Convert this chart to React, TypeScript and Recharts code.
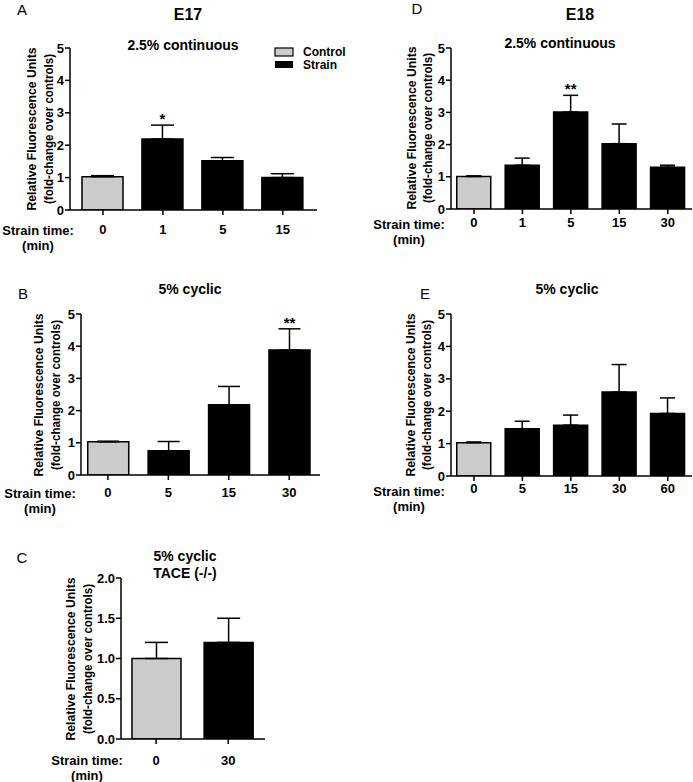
import React from "react";
import { BarChart, Bar, XAxis, YAxis, ErrorBar, Cell, LabelList } from "recharts";

const FONT = '"Liberation Sans", Arial, sans-serif';
const GREY = "#cbcbcb";

// A: E17, 2.5% continuous
const aTimes = ["0", "1", "5", "15"];
const aMeans = [1.03, 2.19, 1.52, 1.0];
const aErrors = [0.03, 0.43, 0.1, 0.12];
const aStars = ["", "*", "", ""];

// B: E17, 5% cyclic
const bTimes = ["0", "5", "15", "30"];
const bMeans = [1.03, 0.75, 2.18, 3.88];
const bErrors = [0.02, 0.29, 0.57, 0.66];
const bStars = ["", "", "", "**"];

// C: 5% cyclic, TACE (-/-)
const cTimes = ["0", "30"];
const cMeans = [1.0, 1.2];
const cErrors = [0.2, 0.3];
const cStars = ["", ""];

// D: E18, 2.5% continuous
const dTimes = ["0", "1", "5", "15", "30"];
const dMeans = [1.01, 1.36, 3.01, 2.03, 1.3];
const dErrors = [0.02, 0.22, 0.52, 0.61, 0.06];
const dStars = ["", "", "**", "", ""];

// E: E18, 5% cyclic
const eTimes = ["0", "5", "15", "30", "60"];
const eMeans = [1.03, 1.46, 1.57, 2.59, 1.93];
const eErrors = [0.02, 0.23, 0.31, 0.85, 0.48];
const eStars = ["", "", "", "", ""];

const foldTicks = [0, 1, 2, 3, 4, 5];
const tinyTicks = [0, 0.5, 1, 1.5, 2];

type PanelProps = {
  axisX: number;
  topY: number;
  bottomY: number;
  rightX: number;
  lo: number;
  hi: number;
  times: string[];
  means: number[];
  errors: number[];
  stars: string[];
  yTicks: number[];
  decimals: number;
  barSize: number;
  cap: number;
  tickGap: number;
};

function Panel(p: PanelProps) {
  const rows = p.times.map((t, i) => ({
    x: i,
    value: p.means[i],
    err: [0, p.errors[i]],
    errTop: p.errors[i],
    star: p.stars[i],
  }));
  const w = 40 + (p.rightX - p.axisX) + 5;
  const h = 10 + (p.bottomY - p.topY) + 30;
  const tickStyle = { fill: "#000", fontSize: 13, fontWeight: 700, fontFamily: FONT };
  return (
    <div style={{ position: "absolute", left: p.axisX - 40, top: p.topY - 10 }}>
      <BarChart width={w} height={h} data={rows} margin={{ top: 10, right: 5, bottom: 0, left: 0 }}>
        <XAxis
          dataKey="x"
          type="number"
          domain={[p.lo, p.hi]}
          allowDataOverflow
          ticks={p.times.map((_, i) => i)}
          tickFormatter={(v: number) => p.times[v] ?? ""}
          height={30}
          axisLine={{ stroke: "#000", strokeWidth: 1.5 }}
          tickLine={{ stroke: "#000", strokeWidth: 1.5 }}
          tickSize={5}
          tickMargin={p.tickGap}
          tick={tickStyle}
          interval={0}
        />
        <YAxis
          domain={[0, p.yTicks[p.yTicks.length - 1]]}
          ticks={p.yTicks}
          width={40}
          allowDataOverflow
          tickFormatter={(v: number) => v.toFixed(p.decimals)}
          axisLine={{ stroke: "#000", strokeWidth: 1.5 }}
          tickLine={{ stroke: "#000", strokeWidth: 1.5 }}
          tickSize={5}
          tickMargin={1}
          tick={tickStyle}
          interval={0}
        />
        <Bar dataKey="value" stackId="s" barSize={p.barSize} stroke="#000" strokeWidth={1.5} isAnimationActive={false}>
          {rows.map((_, i) => (
            <Cell key={i} fill={i === 0 ? GREY : "#000"} />
          ))}
          <ErrorBar dataKey="err" width={p.cap} stroke="#000" strokeWidth={1.5} direction="y" />
        </Bar>
        <Bar dataKey="errTop" stackId="s" barSize={p.barSize} fill="transparent" isAnimationActive={false}>
          <LabelList dataKey="star" position="top" offset={1} style={{ fill: "#000", fontSize: 15, fontWeight: 700, fontFamily: FONT }} />
        </Bar>
      </BarChart>
    </div>
  );
}

function YTitle({ cy1, cy2, cy }: { cy1: number; cy2: number; cy: number }) {
  return (
    <g fontFamily={FONT} fontWeight={700} fontSize={12.5} fill="#000" textAnchor="middle" dominantBaseline="central">
      <text transform={`translate(${cy1},${cy}) rotate(-90)`} textLength={163} lengthAdjust="spacingAndGlyphs">
        Relative Fluorescence Units
      </text>
      <text transform={`translate(${cy2},${cy}) rotate(-90)`} textLength={150} lengthAdjust="spacingAndGlyphs">
        (fold-change over controls)
      </text>
    </g>
  );
}

function XTitle({ x, y }: { x: number; y: number }) {
  return (
    <g fontFamily={FONT} fontWeight={700} fontSize={13} fill="#000" textAnchor="middle" dominantBaseline="central">
      <text x={x} y={y}>Strain time:</text>
      <text x={x} y={y + 15}>(min)</text>
    </g>
  );
}

export default function App() {
  const t = { fontFamily: FONT, fill: "#000", textAnchor: "middle" as const, dominantBaseline: "central" as const };
  return (
    <div style={{ position: "absolute", left: 0, top: 0, width: 693, height: 782, background: "#fff", overflow: "hidden" }}>
      <Panel axisX={70} topY={48} bottomY={210} rightX={317} lo={-0.55} hi={3.57} times={aTimes} means={aMeans} errors={aErrors} stars={aStars} yTicks={foldTicks} decimals={0} barSize={41} cap={11.5} tickGap={10} />
      <Panel axisX={81} topY={314} bottomY={475} rightX={320} lo={-0.446} hi={3.51} times={bTimes} means={bMeans} errors={bErrors} stars={bStars} yTicks={foldTicks} decimals={0} barSize={41} cap={11} tickGap={7.5} />
      <Panel axisX={121} topY={578} bottomY={739} rightX={265} lo={-0.486} hi={1.51} times={cTimes} means={cMeans} errors={cErrors} stars={cStars} yTicks={tinyTicks} decimals={1} barSize={49} cap={11.5} tickGap={12} />
      <Panel axisX={451} topY={48} bottomY={209} rightX={692} lo={-0.474} hi={4.5} times={dTimes} means={dMeans} errors={dErrors} stars={dStars} yTicks={foldTicks} decimals={0} barSize={34} cap={7.5} tickGap={3.5} />
      <Panel axisX={451} topY={314} bottomY={476} rightX={692} lo={-0.474} hi={4.5} times={eTimes} means={eMeans} errors={eErrors} stars={eStars} yTicks={foldTicks} decimals={0} barSize={34} cap={7.5} tickGap={2.5} />
      <svg width={693} height={782} style={{ position: "absolute", left: 0, top: 0, pointerEvents: "none" }}>
        <text x={22} y={9} fontSize={15} {...t}>A</text>
        <text x={188} y={14} fontSize={16} fontWeight={700} {...t}>E17</text>
        <text x={183} y={45} fontSize={14} fontWeight={700} {...t}>2.5% continuous</text>
        <rect x={275} y={48} width={18} height={8} fill={GREY} stroke="#000" strokeWidth={1.2} />
        <rect x={275} y={61} width={18} height={7} fill="#000" />
        <text x={303} y={52} fontSize={12} fontWeight={700} {...t} textAnchor="start">Control</text>
        <text x={303} y={65} fontSize={12} fontWeight={700} {...t} textAnchor="start">Strain</text>
        <YTitle cy1={32} cy2={49} cy={129} />
        <XTitle x={38} y={230} />

        <text x={23} y={293} fontSize={15} {...t}>B</text>
        <text x={190} y={289} fontSize={14} fontWeight={700} {...t}>5% cyclic</text>
        <YTitle cy1={39} cy2={56} cy={395} />
        <XTitle x={40} y={493} />

        <text x={22} y={557} fontSize={15} {...t}>C</text>
        <text x={185} y={556} fontSize={14} fontWeight={700} {...t}>5% cyclic</text>
        <text x={185} y={573} fontSize={14} fontWeight={700} {...t}>TACE (-/-)</text>
        <YTitle cy1={71} cy2={88} cy={659} />
        <XTitle x={87} y={760} />

        <text x={417} y={8} fontSize={15} {...t}>D</text>
        <text x={580} y={14} fontSize={16} fontWeight={700} {...t}>E18</text>
        <text x={560} y={43} fontSize={14} fontWeight={700} {...t}>2.5% continuous</text>
        <YTitle cy1={412} cy2={428} cy={128} />
        <XTitle x={409} y={224} />

        <text x={425} y={293} fontSize={15} {...t}>E</text>
        <text x={567} y={289} fontSize={14} fontWeight={700} {...t}>5% cyclic</text>
        <YTitle cy1={411} cy2={427} cy={395} />
        <XTitle x={409} y={491} />
      </svg>
    </div>
  );
}
